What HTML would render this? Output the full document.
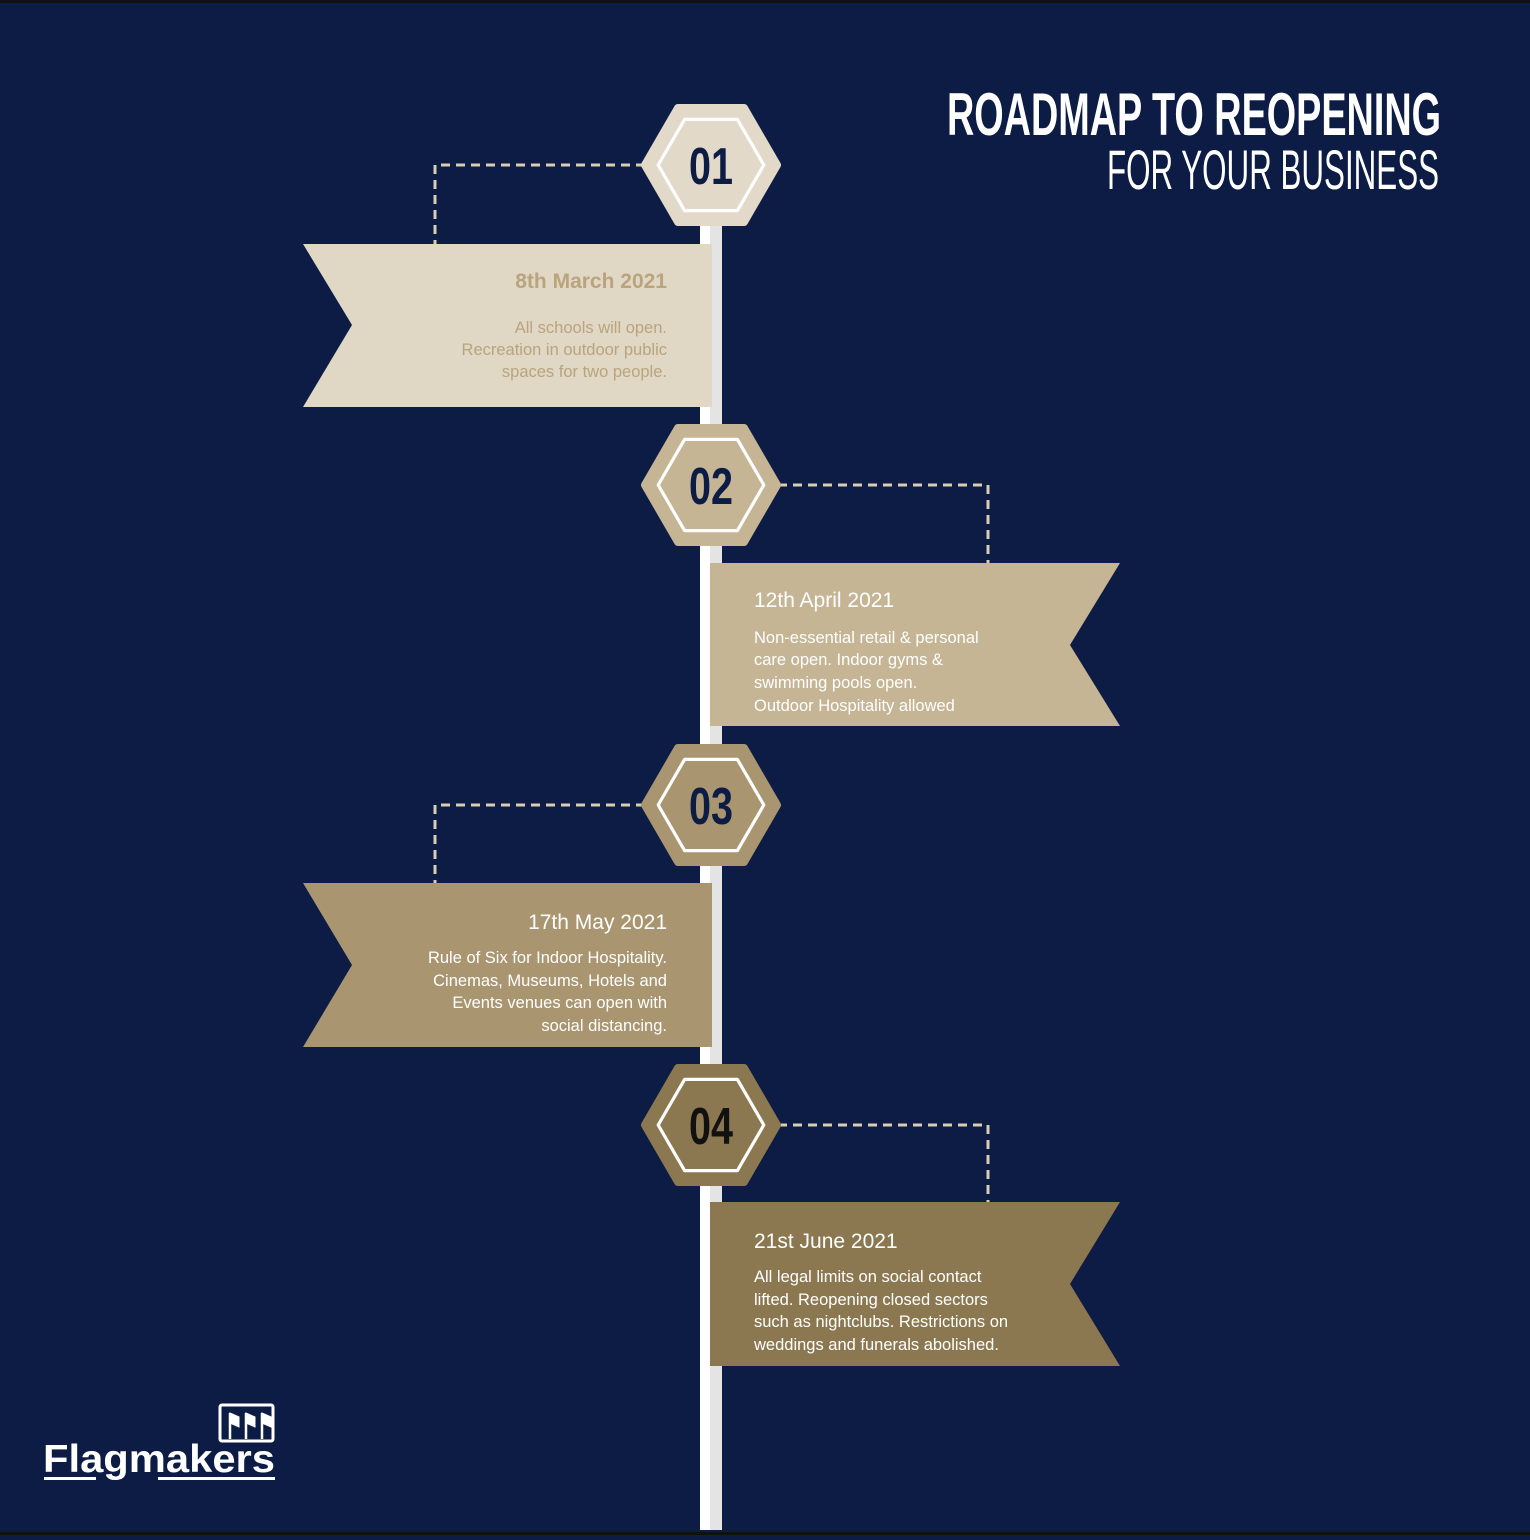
<!DOCTYPE html>
<html><head><style>html,body{margin:0;padding:0;background:#0c1c45}</style></head>
<body>
<svg width="1530" height="1535" viewBox="0 0 1530 1535" xmlns="http://www.w3.org/2000/svg" font-family="Liberation Sans, sans-serif">
<rect width="1530" height="1535" fill="#0c1c45"/>
<rect width="1530" height="3" fill="#111"/>
<rect y="1532" width="1530" height="3" fill="#111"/>
<!-- pole -->
<rect x="700" y="215" width="22" height="1315" fill="#e4e4e4"/>
<rect x="700" y="215" width="10" height="1315" fill="#ffffff"/>
<!-- connectors -->
<g stroke="#d9cdb3" stroke-width="3" stroke-dasharray="9,6" fill="none">
<path d="M645 165 H435 V244"/>
<path d="M778 485 H988 V563"/>
<path d="M645 805 H435 V883"/>
<path d="M778 1125 H988 V1202"/>
</g>
<!-- flags -->
<polygon points="303,244 712,244 712,407 303,407 352,325" fill="#e0d7c5"/>
<polygon points="710,563 1120,563 1070,645 1120,726 710,726" fill="#c5b595"/>
<polygon points="303,883 712,883 712,1047 303,1047 352,965" fill="#a99570"/>
<polygon points="710,1202 1120,1202 1070,1284 1120,1366 710,1366" fill="#8c7850"/>
<!-- hexes -->
<defs>
<g id="hx"><polygon points="-66,0 -33,-57 33,-57 66,0 33,57 -33,57" stroke-linejoin="round" stroke-width="6"/></g>
</defs>
<g>
<polygon transform="translate(711,165)" points="-66,0 -33,-57 33,-57 66,0 33,57 -33,57" fill="#e2d9c8" stroke="#e2d9c8" stroke-width="8" stroke-linejoin="round"/>
<polygon transform="translate(711,165) scale(0.8)" points="-66,0 -33,-57 33,-57 66,0 33,57 -33,57" fill="none" stroke="#fff" stroke-width="4" stroke-linejoin="round"/>
<polygon transform="translate(711,485)" points="-66,0 -33,-57 33,-57 66,0 33,57 -33,57" fill="#c5b595" stroke="#c5b595" stroke-width="8" stroke-linejoin="round"/>
<polygon transform="translate(711,485) scale(0.8)" points="-66,0 -33,-57 33,-57 66,0 33,57 -33,57" fill="none" stroke="#fff" stroke-width="4" stroke-linejoin="round"/>
<polygon transform="translate(711,805)" points="-66,0 -33,-57 33,-57 66,0 33,57 -33,57" fill="#a99570" stroke="#a99570" stroke-width="8" stroke-linejoin="round"/>
<polygon transform="translate(711,805) scale(0.8)" points="-66,0 -33,-57 33,-57 66,0 33,57 -33,57" fill="none" stroke="#fff" stroke-width="4" stroke-linejoin="round"/>
<polygon transform="translate(711,1125)" points="-66,0 -33,-57 33,-57 66,0 33,57 -33,57" fill="#8c7850" stroke="#8c7850" stroke-width="8" stroke-linejoin="round"/>
<polygon transform="translate(711,1125) scale(0.8)" points="-66,0 -33,-57 33,-57 66,0 33,57 -33,57" fill="none" stroke="#fff" stroke-width="4" stroke-linejoin="round"/>
</g>
<g font-size="52" font-weight="bold" fill="#0c1c45" text-anchor="middle">
<text x="711" y="184" textLength="44" lengthAdjust="spacingAndGlyphs">01</text>
<text x="711" y="504" textLength="44" lengthAdjust="spacingAndGlyphs">02</text>
<text x="711" y="824" textLength="44" lengthAdjust="spacingAndGlyphs">03</text>
<text x="711" y="1144" textLength="44" lengthAdjust="spacingAndGlyphs" fill="#111">04</text>
</g>
<!-- title -->
<text x="947" y="135" font-size="60" font-weight="bold" fill="#fff" textLength="494" lengthAdjust="spacingAndGlyphs">ROADMAP TO REOPENING</text>
<text x="1107" y="189" font-size="56" fill="#fff" textLength="332" lengthAdjust="spacingAndGlyphs">FOR YOUR BUSINESS</text>
<!-- flag text -->
<g font-size="16.5" text-anchor="end" fill="#b9a47e">
<text x="667" y="288" font-size="21" font-weight="bold">8th March 2021</text>
<text x="667" y="333">All schools will open.</text>
<text x="667" y="355">Recreation in outdoor public</text>
<text x="667" y="377">spaces for two people.</text>
</g>
<g font-size="16.5" fill="#fff">
<text x="754" y="607" font-size="21">12th April 2021</text>
<text x="754" y="643">Non-essential retail &amp; personal</text>
<text x="754" y="665">care open. Indoor gyms &amp;</text>
<text x="754" y="688">swimming pools open.</text>
<text x="754" y="711">Outdoor Hospitality allowed</text>
</g>
<g font-size="16.5" fill="#fff" text-anchor="end">
<text x="667" y="929" font-size="21">17th May 2021</text>
<text x="667" y="963">Rule of Six for Indoor Hospitality.</text>
<text x="667" y="986">Cinemas, Museums, Hotels and</text>
<text x="667" y="1008">Events venues can open with</text>
<text x="667" y="1031">social distancing.</text>
</g>
<g font-size="16.5" fill="#fff">
<text x="754" y="1248" font-size="21">21st June 2021</text>
<text x="754" y="1282">All legal limits on social contact</text>
<text x="754" y="1305">lifted. Reopening closed sectors</text>
<text x="754" y="1327">such as nightclubs. Restrictions on</text>
<text x="754" y="1350">weddings and funerals abolished.</text>
</g>
<!-- logo -->
<g fill="#fff" stroke="#fff">
<rect x="220" y="1405" width="53" height="36" fill="none" stroke-width="3" rx="2"/>
<path d="M230 1413 v26 M246 1413 v26 M262 1413 v26" stroke-width="2.5"/>
<path d="M230 1413 l9 4 v10 l-9 -4z M246 1413 l9 4 v10 l-9 -4z M262 1413 l9 4 v10 l-9 -4z" stroke-width="1"/>
<rect x="44" y="1477" width="52" height="3" stroke="none"/>
<rect x="158" y="1477" width="117" height="3" stroke="none"/>
</g>
<text x="43" y="1472" font-size="39" font-weight="bold" fill="#fff" textLength="232" lengthAdjust="spacingAndGlyphs">Flagmakers</text>
</svg>
</body></html>
